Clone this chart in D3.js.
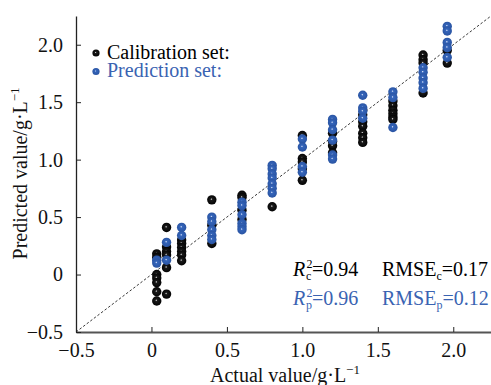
<!DOCTYPE html>
<html>
<head>
<meta charset="utf-8">
<script src="https://cdn.jsdelivr.net/npm/d3@7"></script>
<style>
  body { margin: 0; background: #fff; }
  svg text { font-family: "Liberation Serif", "Times New Roman", serif; }
</style>
</head>
<body>
<div id="chart"></div>
<script>
// Actual concentrations (g/L) and predicted values
const calActual = [
  0.035, 0.035, 0.035, 0.035, 0.035, 0.035, 0.035,
  0.1, 0.1, 0.1, 0.1, 0.1, 0.1,
  0.2, 0.2, 0.2, 0.2, 0.2, 0.2,
  0.4, 0.4, 0.4,
  0.6, 0.6, 0.6, 0.6,
  0.8,
  1.0, 1.0, 1.0, 1.0, 1.0,
  1.2, 1.2, 1.2, 1.2,
  1.4, 1.4, 1.4, 1.4, 1.4, 1.4,
  1.6, 1.6, 1.6, 1.6, 1.6, 1.6,
  1.8, 1.8, 1.8, 1.8,
  1.96, 1.96
];
const calPredicted = [
  0.18, 0.15, 0.0, -0.03, -0.07, -0.15, -0.23,
  0.41, 0.24, 0.20, 0.17, 0.06, -0.17,
  0.30, 0.27, 0.235, 0.20, 0.17, 0.12,
  0.65, 0.43, 0.27,
  0.69, 0.67, 0.56, 0.48,
  0.59,
  1.21, 1.01, 0.98, 0.92, 0.82,
  1.23, 1.16, 1.12, 1.06,
  1.39, 1.33, 1.29, 1.23, 1.19, 1.15,
  1.51, 1.47, 1.43, 1.40, 1.37, 1.35,
  1.91, 1.87, 1.84, 1.58,
  1.95, 1.84
];
const predActual = [
  0.035, 0.035,
  0.1, 0.1,
  0.2, 0.2,
  0.4, 0.4, 0.4, 0.4, 0.4,
  0.6, 0.6, 0.6, 0.6, 0.6, 0.6,
  0.8, 0.8, 0.8, 0.8, 0.8, 0.8, 0.8,
  1.0, 1.0, 1.0, 1.0,
  1.2, 1.2, 1.2, 1.2, 1.2, 1.2,
  1.4, 1.4, 1.4, 1.4,
  1.6, 1.6, 1.6,
  1.8, 1.8, 1.8, 1.8, 1.8,
  1.96, 1.96, 1.96, 1.96, 1.96
];
const predPredicted = [
  0.125, 0.10,
  0.28, 0.125,
  0.41, 0.34,
  0.50, 0.46, 0.39, 0.34, 0.305,
  0.63, 0.60, 0.52, 0.445, 0.415, 0.39,
  0.95, 0.92, 0.875, 0.84, 0.79, 0.75, 0.71,
  1.18, 1.11, 0.94, 0.89,
  1.35, 1.32, 1.26, 1.17, 1.04, 1.005,
  1.56, 1.45, 1.42, 1.36,
  1.59, 1.54, 1.28,
  1.80, 1.76, 1.71, 1.67, 1.62,
  2.16, 2.12, 2.02, 1.975, 1.89
];
const tickValues = [-0.5, 0, 0.5, 1.0, 1.5, 2.0];
const tickLabels = ["\u22120.5", "0", "0.5", "1.0", "1.5", "2.0"];
const legendLabels = ["Calibration set:", "Prediction set:"];
const statsCal = { r2: "0.94", rmse: "0.17", sub: "c" };
const statsPred = { r2: "0.96", rmse: "0.12", sub: "p" };

const width = 491;
const height = 385;
const margin = { top: 16, right: 0, bottom: 53, left: 76 };
const black = "#000";
const textBlue = "#3a63b2";

const svg = d3.select("#chart")
  .append("svg")
    .attr("width", width)
    .attr("height", height);

/*****************************/
/*    Gradients for dots     */
/*****************************/
const defs = svg.append("defs");
const addGradient = (id, light, mid, dark) => {
  const g = defs.append("radialGradient")
    .attr("id", id)
    .attr("cx", "50%").attr("cy", "50%")
    .attr("fx", "45%").attr("fy", "42%")
    .attr("r", "55%");
  g.append("stop").attr("offset", "0%").attr("stop-color", light);
  g.append("stop").attr("offset", "22%").attr("stop-color", mid);
  g.append("stop").attr("offset", "100%").attr("stop-color", dark);
};
addGradient("dot-black", "#e8e8e8", "#1a1a1a", "#000");
addGradient("dot-blue", "#e6edff", "#3565ba", "#2852a0");

/****************************/
/*    Declare the scales    */
/****************************/
const xScale = d3.scaleLinear()
  .domain([-0.5, 2.25])
  .range([margin.left, width]);
const yScale = d3.scaleLinear()
  .domain([-0.5, 2.25])
  .range([height - margin.bottom, margin.top]);

// 1:1 reference line
svg.append("line")
  .attr("x1", xScale(-0.5)).attr("y1", yScale(-0.5))
  .attr("x2", xScale(2.25)).attr("y2", yScale(2.25))
  .attr("stroke", "#222")
  .attr("stroke-width", 0.9)
  .attr("stroke-dasharray", "2.5,2");

/***************************/
/*     Append the axes     */
/***************************/
const bottomAxis = svg.append("g")
  .attr("transform", `translate(0, ${yScale(-0.5)})`)
  .call(d3.axisBottom(xScale)
    .tickValues(tickValues)
    .tickFormat((d, i) => tickLabels[i])
    .tickSizeInner(-5)
    .tickSizeOuter(0)
    .tickPadding(11))
  .attr("font-family", null)
  .attr("font-size", 20);
bottomAxis.select(".domain").attr("stroke", "#555").attr("stroke-width", 2);
bottomAxis.selectAll(".tick line").attr("stroke", "#222");
bottomAxis.selectAll("text").attr("fill", "#111");

const leftAxis = svg.append("g")
  .attr("transform", `translate(${xScale(-0.5)}, 0)`)
  .call(d3.axisLeft(yScale)
    .tickValues(tickValues)
    .tickFormat((d, i) => tickLabels[i])
    .tickSizeInner(-5)
    .tickSizeOuter(0)
    .tickPadding(13))
  .attr("font-family", null)
  .attr("font-size", 20);
leftAxis.select(".domain").attr("stroke", "#222").attr("stroke-width", 1.3);
leftAxis.selectAll(".tick line").attr("stroke", "#222");
leftAxis.selectAll("text").attr("fill", "#111");

// Axis labels
const xLabel = svg.append("text")
  .attr("x", xScale(0.885))
  .attr("y", 382)
  .attr("text-anchor", "middle")
  .attr("font-size", 20)
  .attr("fill", "#111");
xLabel.append("tspan").text("Actual value/g\u00b7L");
xLabel.append("tspan").attr("dy", -8).attr("font-size", 13).text("\u22121");

const yLabel = svg.append("text")
  .attr("transform", `translate(27, ${yScale(0.88)}) rotate(-90)`)
  .attr("text-anchor", "middle")
  .attr("font-size", 20)
  .attr("fill", "#111");
yLabel.append("tspan").text("Predicted value/g\u00b7L");
yLabel.append("tspan").attr("dy", -8).attr("font-size", 13).text("\u22121");

/******************************/
/*     Append the circles     */
/******************************/
const calData = calActual.map((a, i) => ({ actual: a, predicted: calPredicted[i] }));
const predData = predActual.map((a, i) => ({ actual: a, predicted: predPredicted[i] }));

svg.append("g")
  .selectAll("circle")
  .data(calData)
  .join("circle")
    .attr("cx", d => xScale(d.actual))
    .attr("cy", d => yScale(d.predicted))
    .attr("r", 4.7)
    .attr("fill", "url(#dot-black)");

svg.append("g")
  .selectAll("circle")
  .data(predData)
  .join("circle")
    .attr("cx", d => xScale(d.actual))
    .attr("cy", d => yScale(d.predicted))
    .attr("r", 4.7)
    .attr("fill", "url(#dot-blue)");

/*************************/
/*     Legend & stats    */
/*************************/
const legend = svg.append("g");
[["dot-black", black], ["dot-blue", textBlue]].forEach(([grad, col], i) => {
  legend.append("circle")
    .attr("cx", 96)
    .attr("cy", 53 + i * 18.5)
    .attr("r", 3.6)
    .attr("fill", `url(#${grad})`);
  legend.append("text")
    .attr("x", 107)
    .attr("y", 58.5 + i * 18.5)
    .attr("font-size", 20)
    .attr("fill", col)
    .text(legendLabels[i]);
});

const drawStats = (stats, baseline, col) => {
  const g = svg.append("g").attr("fill", col).attr("font-size", 20);
  const r2 = g.append("text")
    .attr("x", 293).attr("y", baseline);
  r2.append("tspan").attr("font-style", "italic").text("R");
  r2.append("tspan").attr("x", 306.5).attr("dy", -8).attr("font-size", 12).text("2");
  r2.append("tspan").attr("x", 306).attr("dy", 12).attr("font-size", 12).text(stats.sub);
  r2.append("tspan").attr("x", 312).attr("dy", -4).text(`=${stats.r2}`);
  const rm = g.append("text")
    .attr("x", 382).attr("y", baseline);
  rm.append("tspan").text("RMSE");
  rm.append("tspan").attr("dy", 4).attr("font-size", 12).text(stats.sub);
  rm.append("tspan").attr("dy", -4).text(`=${stats.rmse}`);
};
drawStats(statsCal, 276, black);
drawStats(statsPred, 305, textBlue);
</script>
</body>
</html>
